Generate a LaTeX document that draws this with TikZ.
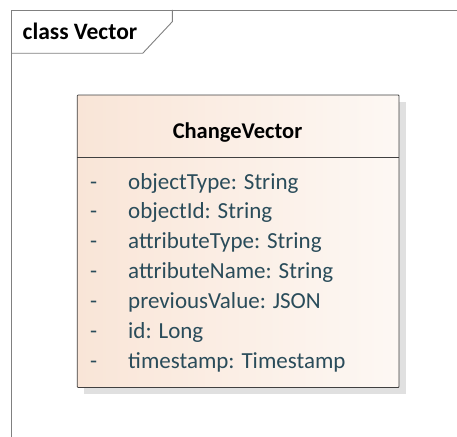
\documentclass[tikz,border=0pt]{standalone}
\usepackage{fontspec}
\setmainfont{Carlito}
\definecolor{attrtext}{RGB}{42,76,90}
\definecolor{framegray}{RGB}{128,128,128}
\definecolor{boxborder}{RGB}{64,64,64}
\definecolor{peachleft}{RGB}{249,229,215}
\definecolor{peachright}{RGB}{253,248,244}
\definecolor{shadowgray}{RGB}{224,224,224}
\tikzset{
  framelabel/.style={anchor=base west, inner sep=0pt, font=\fontsize{23.5}{28}\bfseries\selectfont},
  classtitle/.style={anchor=base, inner sep=0pt, font=\fontsize{22.5}{27}\bfseries\selectfont},
  attrmark/.style={anchor=base west, inner sep=0pt, text=attrtext, font=\fontsize{23}{28}\selectfont},
  attrtext/.style={anchor=base west, inner sep=0pt, text=attrtext, font=\fontsize{23}{28}\selectfont},
}
\begin{document}
\begin{tikzpicture}[x=1pt, y=-1pt]
  \useasboundingbox (0,0) rectangle (457,436);
  \clip (0,0) rectangle (457,436);

  % diagram frame with its name tab
  \draw[framegray, line width=0.9pt] (11,440) -- (11,10) -- (460,10);
  \draw[framegray, line width=0.9pt] (11,53.3) -- (142.7,53.3) -- (172.3,21.7) -- (172.3,10);
  \node[framelabel] (framename) at (22.5,39.5) {class Vector};

  % class box: shadow, gradient body, border, compartment line
  \fill[shadowgray] (83.5,101.5) rectangle (405.5,393.5);
  \shade[left color=peachleft, right color=peachright] (77.3,95) rectangle (399,387.5);
  \draw[boxborder, line width=0.8pt, rounded corners=0.8pt] (77.3,95) rectangle (399,387.5);
  \draw[boxborder, line width=0.7pt] (77.3,157.3) -- (399,157.3);

  \node[classtitle] (title) at (237.5,138.5) {ChangeVector};

  % attributes
  \foreach \i/\txt in {0/{objectType: String}, 1/{objectId: String},
                       2/{attributeType: String}, 3/{attributeName: String},
                       4/{previousValue: JSON}, 5/{id: Long},
                       6/{timestamp: Timestamp}} {
    \node[attrmark] (mark\i) at (90,189+29.9*\i) {-};
    \node[attrtext] (attr\i) at (128,189+29.9*\i) {\txt};
  }
\end{tikzpicture}
\end{document}
